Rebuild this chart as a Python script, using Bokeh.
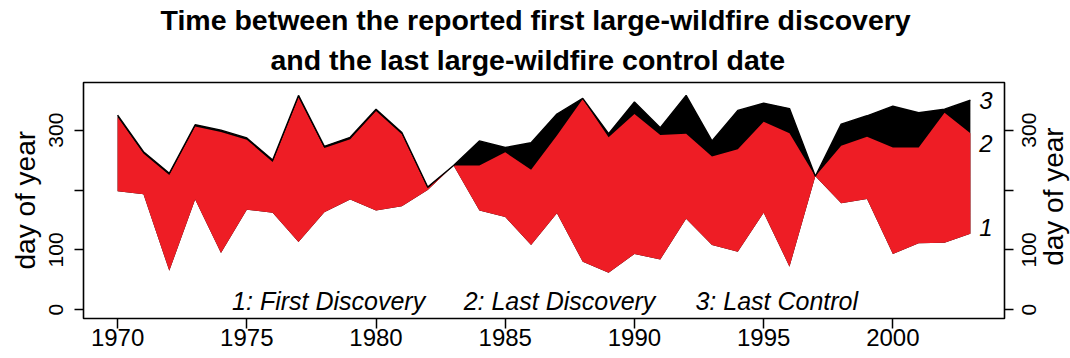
import math
from bokeh.plotting import figure
from bokeh.layouts import row
from bokeh.models import LinearAxis, FixedTicker, Title, ColumnDataSource, Range1d
from bokeh.core.properties import value
from bokeh.embed import file_html
from bokeh.resources import INLINE

years = list(range(1970, 2004))
first_discovery = [198, 193, 65, 184, 95, 167, 162, 113, 163, 184, 166, 173, 200, 241,
                   166, 155, 108, 161, 80, 62, 93, 84, 152, 108, 97, 162, 72, 223,
                   178, 185, 93, 111, 112, 127]
last_discovery = [322, 261, 225, 306, 297, 284, 247, 355, 270, 285, 332, 293, 203, 241,
                  241, 263, 234, 291, 352, 288, 327, 292, 294, 256, 268, 314, 295, 223,
                  274, 289, 271, 271, 329, 295]
last_control = [325, 264, 228, 309, 300, 287, 250, 358, 273, 288, 335, 296, 205, 241,
                282, 271, 279, 327, 353, 294, 347, 304, 358, 282, 333, 345, 336, 223,
                310, 324, 340, 329, 335, 350]

title_lines = ["Time between the reported first large-wildfire discovery",
               "and the last large-wildfire control date"]
legend_texts = ["1: First Discovery", "2: Last Discovery", "3: Last Control"]
series_tags = ["1", "2", "3"]
y_ticks = [0, 100, 200, 300]
y_tick_labels = ["0", "100", "", "300"]
x_ticks = [1970, 1975, 1980, 1985, 1990, 1995, 2000]
y_title = "day of year"

FONT = "Liberation Sans"
RED = "#EE1D25"
H = 358
TOP, BOTTOM = 82, 40
LEFT_W, RIGHT_W = 66, 54
MAIN_W = 1070 - LEFT_W - RIGHT_W

yr = Range1d(-14.6, 379.6)

src = ColumnDataSource(dict(year=years, first=first_discovery,
                            last=last_discovery, control=last_control))

p = figure(width=MAIN_W, height=H, x_range=(1968.68, 2004.32), y_range=yr,
           output_backend="svg", toolbar_location=None, title=None,
           min_border_left=17, min_border_right=12, min_border_top=TOP, min_border_bottom=BOTTOM,
           background_fill_color="white", border_fill_color="white")

p.varea(x="year", y1="first", y2="control", source=src, fill_color="black")
p.varea(x="year", y1="first", y2="last", source=src, fill_color=RED)
p.line(x="year", y="control", source=src, line_color="black", line_width=1.4)

# series tags at right end
tag_y = [137, 278, 349]
p.text(x=[2003.6] * 3, y=tag_y, text=series_tags, text_font=value(FONT),
       text_font_style="italic", text_font_size="24px", text_align="center",
       text_baseline="middle", text_color="black")

# legend texts
leg_x = [1974.43, 1983.39, 1992.36]
p.text(x=leg_x, y=[14] * 3, text=legend_texts, text_font=value(FONT),
       text_font_style="italic", text_font_size="25px", text_align="left",
       text_baseline="alphabetic", text_color="black")

p.grid.visible = False
p.outline_line_color = "black"
p.outline_line_width = 1.6

# x axis
xa = p.xaxis[0]
xa.ticker = FixedTicker(ticks=x_ticks)
xa.axis_line_color = None
xa.major_tick_out = 10
xa.major_tick_in = 0
xa.minor_tick_out = 0
xa.minor_tick_in = 0
xa.major_tick_line_width = 1.5
xa.major_tick_line_color = "black"
xa.major_label_text_font = FONT
xa.major_label_text_font_size = "24px"
xa.major_label_text_color = "black"
xa.major_label_standoff = 0

# y axes: ticks only; their labels are drawn in the side panels
ya = p.yaxis[0]
ra = LinearAxis()
p.add_layout(ra, "right")
for ax in (ya, ra):
    ax.ticker = FixedTicker(ticks=y_ticks)
    ax.major_label_overrides = {t: "" for t in y_ticks}
    ax.major_label_text_font_size = "1px"
    ax.major_label_standoff = 0
    ax.axis_line_color = None
    ax.major_tick_out = 9
    ax.major_tick_in = 0
    ax.minor_tick_out = 0
    ax.minor_tick_in = 0
    ax.major_tick_line_width = 1.5
    ax.major_tick_line_color = "black"

p.add_layout(Title(text=title_lines[1], align="left", offset=187, text_font=FONT,
                   text_color="black", text_font_size="28.5px", text_font_style="bold",
                   standoff=13), "above")
p.add_layout(Title(text=title_lines[0], align="left", offset=77, text_font=FONT,
                   text_color="black", text_font_size="28.5px", text_font_style="bold",
                   standoff=0), "above")


def side_panel(width, x0, tick_x, title_x, title_y):
    f = figure(width=width, height=H, x_range=(x0, x0 + width), y_range=yr,
               output_backend="svg", toolbar_location=None, title=None,
               x_axis_type=None, y_axis_type=None,
               min_border_left=0, min_border_right=0, min_border_top=TOP, min_border_bottom=BOTTOM,
               background_fill_color="white", border_fill_color="white")
    f.outline_line_color = None
    labs = [l for l in y_tick_labels if l]
    ys = [t for t, l in zip(y_ticks, y_tick_labels) if l]
    f.text(x=[tick_x] * len(labs), y=ys, text=labs, angle=math.pi / 2,
           text_font=value(FONT), text_font_size="21px", text_color="black",
           text_align="center", text_baseline="middle")
    f.text(x=[title_x], y=[title_y], text=[y_title], angle=math.pi / 2,
           text_font=value(FONT), text_font_size="28px", text_color="black",
           text_align="center", text_baseline="middle")
    return f


left = side_panel(LEFT_W, 0, 55, 25, 183)
right = side_panel(RIGHT_W, 1070 - RIGHT_W, 1028, 1053, 189)

layout = row(left, p, right, spacing=0)
open("out.html", "w").write(file_html(layout, INLINE))
